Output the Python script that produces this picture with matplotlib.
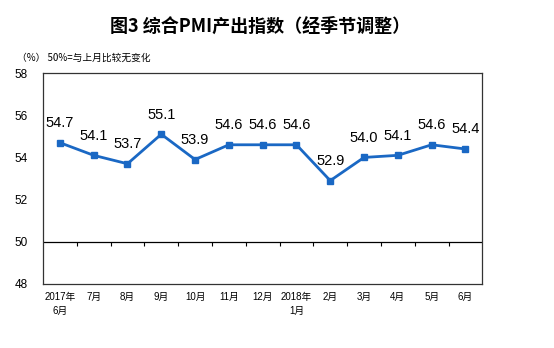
import matplotlib
matplotlib.use('Agg')
import matplotlib.pyplot as plt
import numpy as np

plt.rcParams['font.family'] = ['Liberation Sans', 'Noto Sans CJK SC']

# Composite PMI output index, seasonally adjusted
months = ['2017年\n6月', '7月', '8月', '9月', '10月', '11月', '12月',
          '2018年\n1月', '2月', '3月', '4月', '5月', '6月']
values = [54.7, 54.1, 53.7, 55.1, 53.9, 54.6, 54.6, 54.6, 52.9, 54.0, 54.1, 54.6, 54.4]
y_ticks = [48, 50, 52, 54, 56, 58]

fig = plt.figure(figsize=(5.54, 3.48), dpi=100)
ax = fig.add_axes([0.0776, 0.184, 0.793, 0.606])

x = np.arange(len(months))
ax.plot(x, values, color='#1a68c4', lw=2, marker='s', ms=4.5, zorder=3)
for xi, v in zip(x, values):
    ax.annotate(f'{v:.1f}', (xi, v), xytext=(0, 9), textcoords='offset points',
                ha='center', va='bottom', fontsize=10.5)

# baseline at 50 with category separators
ax.axhline(50, color='black', lw=0.9, zorder=2)
ax.vlines(x[:-1] + 0.5, 49.8, 50, color='black', lw=0.8)

ax.set_xlim(-0.5, len(months) - 0.5)
ax.set_ylim(48, 58)
ax.set_yticks(y_ticks)
ax.tick_params(axis='y', length=0, labelsize=8.5, pad=11)
ax.set_xticks(x)
ax.set_xticklabels(months, fontsize=7, linespacing=1.5)
ax.tick_params(axis='x', length=0, pad=6)
for s in ax.spines.values():
    s.set_linewidth(0.9)
    s.set_color('#333333')

fig.text(0.47, 0.925, '图3 综合PMI产出指数（经季节调整）', ha='center', va='center',
         fontsize=13, fontweight='bold', family=['Noto Sans CJK SC'])
fig.text(0.03, 0.835, '（%） 50%=与上月比较无变化', ha='left', va='center',
         fontsize=7, family=['Noto Sans CJK SC'])

fig.savefig('out.png', dpi=100)
